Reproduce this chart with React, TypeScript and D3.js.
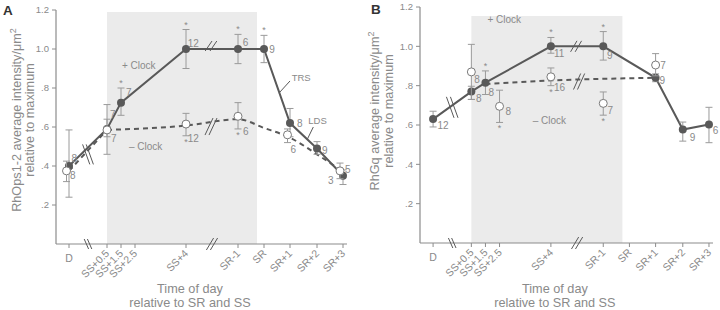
import React from "react";
import * as d3 from "d3";

// ---------- shared axis ----------
const categories = ["D", "SS+0.5", "SS+1.5", "SS+2.5", "SS+4", "SR-1", "SR", "SR+1", "SR+2", "SR+3"];
const catUnits = [13, 51, 65, 79, 130, 182, 208, 234, 261, 287];
const axisUnitsMax = 291;
const breakUnits = [32, 156];
const shadeUnits = [51, 201];
const yTicks = [0.2, 0.4, 0.6, 0.8, 1.0, 1.2];
const yTickLabels = [".2", ".4", ".6", ".8", "1.0", "1.2"];

// ---------- Panel A (RhOps1-2) ----------
const aPlusCats = ["D", "SS+0.5", "SS+1.5", "SS+4", "SR-1", "SR", "SR+1", "SR+2", "SR+3"];
const aPlusMean = [0.4, 0.59, 0.725, 1.0, 1.0, 1.0, 0.62, 0.49, 0.35];
const aPlusLo = [0.24, 0.46, 0.66, 0.9, 0.925, 0.93, 0.55, 0.46, 0.305];
const aPlusHi = [0.585, 0.715, 0.8, 1.1, 1.075, 1.07, 0.695, 0.525, 0.38];
const aPlusN = [8, 7, 7, 12, 6, 9, 8, 9, 3];
const aPlusStar = [false, false, true, true, true, true, false, false, false];

const aMinusCats = ["D", "SS+0.5", "SS+4", "SR-1", "SR+1", "SR+3"];
const aMinusMean = [0.375, 0.585, 0.615, 0.655, 0.56, 0.375];
const aMinusLo = [0.32, 0.55, 0.555, 0.59, 0.52, 0.335];
const aMinusHi = [0.425, 0.64, 0.67, 0.725, 0.59, 0.415];
const aMinusN = [8, 7, 12, 6, 6, 5];
const aMinusStar = [false, false, true, true, false, false];

const aFitPrefixCats = ["D", "SS+0.5"];
const aFitPrefixVals = [0.375, 0.585];
const aFitCats = ["SS+0.5", "SS+4", "SR-1", "SR", "SR+1", "SR+2", "SR+3"];
const aFitVals = [0.585, 0.607, 0.64, 0.595, 0.545, 0.46, 0.37];

// ---------- Panel B (RhGq) ----------
const bPlusCats = ["D", "SS+0.5", "SS+1.5", "SS+4", "SR-1", "SR+1", "SR+2", "SR+3"];
const bPlusMean = [0.63, 0.77, 0.815, 1.0, 1.0, 0.84, 0.577, 0.603];
const bPlusLo = [0.59, 0.73, 0.755, 0.965, 0.93, 0.82, 0.518, 0.51];
const bPlusHi = [0.67, 0.797, 0.875, 1.045, 1.075, 0.86, 0.615, 0.69];
const bPlusN = [12, 8, 8, 11, 9, 9, 9, 6];
const bPlusStar = [false, false, true, true, true, false, false, false];

const bMinusCats = ["SS+0.5", "SS+2.5", "SS+4", "SR-1", "SR+1"];
const bMinusMean = [0.87, 0.695, 0.845, 0.71, 0.905];
const bMinusLo = [0.73, 0.613, 0.8, 0.65, 0.85];
const bMinusHi = [1.01, 0.777, 0.89, 0.768, 0.963];
const bMinusN = [8, 8, 16, 7, 7];
const bMinusStar = [false, true, true, true, false];

const bFitCats = ["SS+1.5", "SS+4", "SR-1", "SR+1"];
const bFitVals = [0.808, 0.827, 0.835, 0.84];

// ---------- layout (label offsets in px) ----------
const aPlusLabelOff: [number, number][] = [[2.5, -7.5], [3, -14], [5, -10.5], [1.8, -6], [4.7, -6.3], [5.3, 0.7], [7, 0], [5, 2.4], [-9.5, 5]];
const aMinusLabelOff: [number, number][] = [[3.5, 4.5], [4, 9], [1.8, 14], [5, 15], [3, 15], [5, -1.5]];
const aMinusDodge = [-2.5, 0, 0, 0, -2.5, -3];
const bPlusLabelOff: [number, number][] = [[4.3, 6.8], [4.7, 7.4], [3, 9.6], [3, 6.7], [3.7, 9], [4, 3], [7, 8], [3.7, 6]];
const bMinusLabelOff: [number, number][] = [[3, 7.7], [6, 5.6], [3, 10.5], [4.3, 7.6], [4.7, 0.3]];
const bMinusDodge = [0, 0, 0, 0, 0];

const TEXT = "#8a8a8a";
const LINE = "#595959";
const ERR = "#9a9a9a";
const SHADE = "#ebebeb";
const AXIS = "#8c8c8c";
const FONT = "'Liberation Sans', Arial, Helvetica, sans-serif";

type Pt = { cat: string; m: number; lo: number; hi: number; n: number; star: boolean };
const mk = (cats: string[], m: number[], lo: number[], hi: number[], n: number[], star: boolean[]): Pt[] =>
  cats.map((c, i) => ({ cat: c, m: m[i], lo: lo[i], hi: hi[i], n: n[i], star: star[i] }));

const unitOf = (cat: string) => catUnits[categories.indexOf(cat)];

function interp(pts: [number, number][], u: number) {
  for (let i = 0; i < pts.length - 1; i++) {
    const [u0, v0] = pts[i];
    const [u1, v1] = pts[i + 1];
    if (u >= u0 && u <= u1) return v0 + ((u - u0) / (u1 - u0)) * (v1 - v0);
  }
  return pts[pts.length - 1][1];
}

type BreakSpec = { series: "plus" | "fitPrefix" | "fit"; unit: number; dir: "back" | "fwd"; hdx: number; hdy: number; off: number; dy: number };

type PanelCfg = {
  letter: string;
  letterPos: [number, number];
  xRange: [number, number];
  yRange: [number, number];
  shadeTop: number;
  plus: Pt[];
  minus: Pt[];
  plusOff: [number, number][];
  minusOff: [number, number][];
  minusDodge: number[];
  fitPrefix: [number, number][] | null;
  fit: [number, number][];
  fitCurve: any;
  title1: string;
  title2: string;
  titleX: [number, number];
  titleY: number;
  clockPlus: [number, number];
  clockMinus: [number, number];
  notes: { text: string; label: [number, number]; from: [number, number]; to: [number, number] }[];
  breaks: BreakSpec[];
};

const toPairs = (cats: string[], vals: number[]): [number, number][] => cats.map((c, i) => [unitOf(c), vals[i]]);

const panels: PanelCfg[] = [
  {
    letter: "A",
    letterPos: [3, 15],
    xRange: [56, 347],
    yRange: [244, 10],
    shadeTop: 12,
    plus: mk(aPlusCats, aPlusMean, aPlusLo, aPlusHi, aPlusN, aPlusStar),
    minus: mk(aMinusCats, aMinusMean, aMinusLo, aMinusHi, aMinusN, aMinusStar),
    plusOff: aPlusLabelOff,
    minusOff: aMinusLabelOff,
    minusDodge: aMinusDodge,
    fitPrefix: toPairs(aFitPrefixCats, aFitPrefixVals),
    fit: toPairs(aFitCats, aFitVals),
    fitCurve: d3.curveMonotoneX,
    title1: "RhOps1-2 average intensity/μm",
    title2: "relative to maximum",
    titleX: [21, 34],
    titleY: 120,
    clockPlus: [66, 0.915],
    clockMinus: [73, 0.5],
    notes: [
      { text: "TRS", label: [235.7, 0.855], from: [234, 0.836], to: [223, 0.774] },
      { text: "LDS", label: [252.3, 0.632], from: [257.3, 0.6], to: [251.3, 0.537] },
    ],
    breaks: [
      { series: "fitPrefix", unit: 32, dir: "back", hdx: 3.6, hdy: 10, off: 1.8, dy: 4 },
      { series: "plus", unit: 155, dir: "fwd", hdx: 3.4, hdy: 5, off: 2.4, dy: -3 },
      { series: "fit", unit: 155, dir: "fwd", hdx: 4, hdy: 8.5, off: 2, dy: 4 },
    ],
  },
  {
    letter: "B",
    letterPos: [371, 14],
    xRange: [420, 713],
    yRange: [243, 7],
    shadeTop: 16,
    plus: mk(bPlusCats, bPlusMean, bPlusLo, bPlusHi, bPlusN, bPlusStar),
    minus: mk(bMinusCats, bMinusMean, bMinusLo, bMinusHi, bMinusN, bMinusStar),
    plusOff: bPlusLabelOff,
    minusOff: bMinusLabelOff,
    minusDodge: bMinusDodge,
    fitPrefix: null,
    fit: toPairs(bFitCats, bFitVals),
    fitCurve: d3.curveLinear,
    title1: "RhGq average intensity/μm",
    title2: "relative to maximum",
    titleX: [379, 393],
    titleY: 111,
    clockPlus: [67, 1.135],
    clockMinus: [112, 0.625],
    notes: [],
    breaks: [
      { series: "plus", unit: 32, dir: "back", hdx: 3.8, hdy: 10.5, off: 2, dy: 2 },
      { series: "plus", unit: 155, dir: "fwd", hdx: 3.2, hdy: 5.5, off: 2.3, dy: 0 },
      { series: "fit", unit: 158, dir: "fwd", hdx: 3.6, hdy: 8, off: 2, dy: 2 },
    ],
  },
];

function Panel({ p }: { p: PanelCfg }) {
  const x = d3.scaleLinear().domain([0, axisUnitsMax]).range(p.xRange);
  const y = d3.scaleLinear().domain([0, 1.2]).range(p.yRange);
  const line = d3.line<[number, number]>().x((d) => x(d[0])).y((d) => y(d[1]));
  const plusPairs: [number, number][] = p.plus.map((d) => [unitOf(d.cat), d.m]);
  const fitLine = d3.line<[number, number]>().x((d) => x(d[0])).y((d) => y(d[1])).curve(p.fitCurve);
  const y0 = y(0);
  const xAxisEnd = x(axisUnitsMax);

  const seriesPts = (s: BreakSpec["series"]) => (s === "plus" ? plusPairs : s === "fit" ? p.fit : p.fitPrefix || []);

  const breakMark = (cx: number, cy: number, dir: "back" | "fwd", hdx: number, hdy: number, off: number, key: string) => (
    <g key={key} stroke={LINE} strokeWidth={1}>
      {[-off, off].map((o, i) => (
        <line
          key={i}
          x1={cx + o - hdx}
          y1={dir === "back" ? cy - hdy : cy + hdy}
          x2={cx + o + hdx}
          y2={dir === "back" ? cy + hdy : cy - hdy}
        />
      ))}
    </g>
  );

  const errBar = (cx: number, d: Pt, key: string) => (
    <g key={key} stroke={ERR} strokeWidth={1}>
      <line x1={cx} x2={cx} y1={y(d.lo)} y2={y(d.hi)} />
      <line x1={cx - 3.5} x2={cx + 3.5} y1={y(d.lo)} y2={y(d.lo)} />
      <line x1={cx - 3.5} x2={cx + 3.5} y1={y(d.hi)} y2={y(d.hi)} />
    </g>
  );

  return (
    <g>
      {/* shaded night */}
      <rect x={x(shadeUnits[0])} y={p.shadeTop} width={x(shadeUnits[1]) - x(shadeUnits[0])} height={y0 - p.shadeTop} fill={SHADE} />

      {/* y axis */}
      <line x1={p.xRange[0]} x2={p.xRange[0]} y1={y(1.2)} y2={y0} stroke={AXIS} strokeWidth={1.2} />
      {yTicks.map((t, i) => (
        <g key={"yt" + i}>
          <line x1={p.xRange[0] - 4} x2={p.xRange[0]} y1={y(t)} y2={y(t)} stroke={AXIS} />
          <text x={p.xRange[0] - 7} y={y(t)} dy="0.35em" textAnchor="end" fontSize={9.5} fill={TEXT}>
            {yTickLabels[i]}
          </text>
        </g>
      ))}

      {/* x axis */}
      <line x1={p.xRange[0]} x2={xAxisEnd} y1={y0} y2={y0} stroke={AXIS} strokeWidth={1.2} />
      {categories.map((c, i) => {
        const cx = x(catUnits[i]);
        return (
          <g key={"xt" + c}>
            <line x1={cx} x2={cx} y1={y0} y2={y0 + 4} stroke={AXIS} />
            {c === "D" ? (
              <text x={cx} y={y0 + 18} textAnchor="middle" fontSize={10.5} fill={TEXT}>
                {c}
              </text>
            ) : (
              <text transform={`translate(${cx + 3},${y0 + 10}) rotate(-45)`} textAnchor="end" fontSize={10.5} fill={TEXT}>
                {c}
              </text>
            )}
          </g>
        );
      })}
      {breakMark(x(breakUnits[0]), y0, "back", 2.2, 5, 1.6, "ab0")}
      {breakMark(x(breakUnits[1]), y0, "fwd", 3.6, 6, 2, "ab1")}

      {/* axis titles */}
      <text x={x(134)} y={293} textAnchor="middle" fontSize={12.7} fill={TEXT}>
        Time of day
      </text>
      <text x={x(134)} y={307} textAnchor="middle" fontSize={12.7} fill={TEXT}>
        relative to SR and SS
      </text>
      <text transform={`translate(${p.titleX[0]},${p.titleY}) rotate(-90)`} textAnchor="middle" fontSize={12.7} fill={TEXT}>
        {p.title1}
        <tspan fontSize={9} dy={-5}>
          2
        </tspan>
      </text>
      <text transform={`translate(${p.titleX[1]},${p.titleY}) rotate(-90)`} textAnchor="middle" fontSize={12.7} fill={TEXT}>
        {p.title2}
      </text>

      {/* panel letter */}
      <text x={p.letterPos[0]} y={p.letterPos[1]} fontSize={13.5} fontWeight="bold" fill="#333">
        {p.letter}
      </text>

      {/* fitted -Clock dashed */}
      {p.fitPrefix && <path d={line(p.fitPrefix) || ""} fill="none" stroke={LINE} strokeWidth={2} strokeDasharray="5,4" />}
      <path d={fitLine(p.fit) || ""} fill="none" stroke={LINE} strokeWidth={2} strokeDasharray="5,4" />

      {/* +Clock solid */}
      <path d={line(plusPairs) || ""} fill="none" stroke={LINE} strokeWidth={2} />

      {/* line breaks */}
      {p.breaks.map((b, i) => {
        const v = interp(seriesPts(b.series), b.unit);
        return breakMark(x(b.unit), y(v) + b.dy, b.dir, b.hdx, b.hdy, b.off, "lb" + i);
      })}

      {/* +Clock error bars & points */}
      {p.plus.map((d, i) => {
        const cx = x(unitOf(d.cat));
        return (
          <g key={"p" + i}>
            {errBar(cx, d, "pe" + i)}
            <circle cx={cx} cy={y(d.m)} r={4} fill={LINE} />
            <text x={cx + p.plusOff[i][0]} y={y(d.m) + p.plusOff[i][1]} dy="0.35em" textAnchor={p.plusOff[i][0] < 0 ? "end" : "start"} fontSize={10} fill={TEXT}>
              {d.n}
            </text>
            {d.star && (
              <text x={cx} y={y(d.hi) - 7 + 5} textAnchor="middle" fontSize={9} fill={TEXT}>
                *
              </text>
            )}
          </g>
        );
      })}

      {/* -Clock error bars & points */}
      {p.minus.map((d, i) => {
        const cx = x(unitOf(d.cat)) + p.minusDodge[i];
        return (
          <g key={"m" + i}>
            {errBar(cx, d, "me" + i)}
            <circle cx={cx} cy={y(d.m)} r={4} fill="#fff" stroke="#7a7a7a" strokeWidth={1} />
            <text x={cx + p.minusOff[i][0]} y={y(d.m) + p.minusOff[i][1]} dy="0.35em" textAnchor="start" fontSize={10} fill={TEXT}>
              {d.n}
            </text>
            {d.star && (
              <text x={cx} y={y(d.lo) + 4 + 5} textAnchor="middle" fontSize={9} fill={TEXT}>
                *
              </text>
            )}
          </g>
        );
      })}

      {/* clock labels */}
      <text x={x(p.clockPlus[0])} y={y(p.clockPlus[1])} dy="0.35em" fontSize={10} fill={TEXT}>
        + Clock
      </text>
      <text x={x(p.clockMinus[0])} y={y(p.clockMinus[1])} dy="0.35em" fontSize={10} fill={TEXT}>
        – Clock
      </text>

      {/* TRS / LDS annotations */}
      {p.notes.map((n, i) => (
        <g key={"n" + i}>
          <line x1={x(n.from[0])} y1={y(n.from[1])} x2={x(n.to[0])} y2={y(n.to[1])} stroke={LINE} strokeWidth={1} />
          <text x={x(n.label[0])} y={y(n.label[1])} dy="0.35em" fontSize={9.5} fill={TEXT}>
            {n.text}
          </text>
        </g>
      ))}
    </g>
  );
}

export default function App() {
  return (
    <svg width={720} height={310} style={{ position: "absolute", left: 0, top: 0, background: "#fff" }} fontFamily={FONT}>
      {panels.map((p) => (
        <Panel key={p.letter} p={p} />
      ))}
    </svg>
  );
}
